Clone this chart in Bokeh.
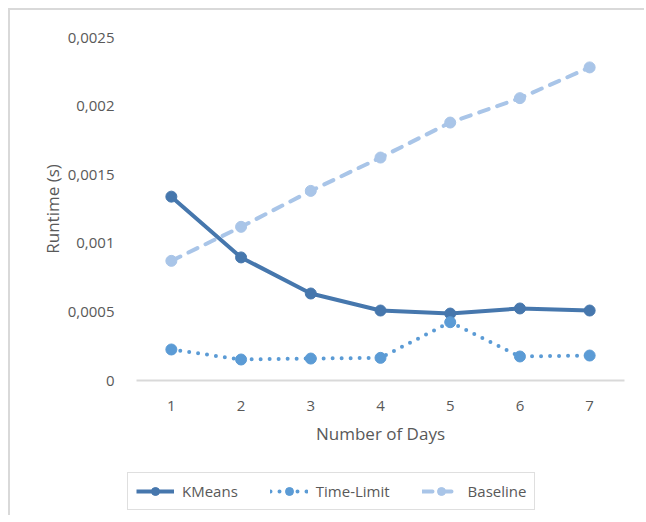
from bokeh.plotting import figure
from bokeh.layouts import column
from bokeh.models import Range1d, FixedTicker, CustomJSTickFormatter, Legend, LegendItem
from bokeh.embed import file_html
from bokeh.resources import INLINE

days = [1, 2, 3, 4, 5, 6, 7]
kmeans = [0.00134, 0.000897, 0.000634, 0.00051, 0.000488, 0.000525, 0.00051]
time_limit = [0.000226, 0.000153, 0.00016, 0.000165, 0.000425, 0.000175, 0.000182]
baseline = [0.000872, 0.00112, 0.001382, 0.001625, 0.001880, 0.002058, 0.002282]
y_ticks = [0, 0.0005, 0.001, 0.0015, 0.002, 0.0025]

FONT = "Open Sans"
TXT = "#595959"
c_k = "#4677ad"
c_t = "#5b9bd5"
c_b = "#a9c5e8"

# main chart
p = figure(frame_width=488, frame_height=343, output_backend="svg", toolbar_location=None,
           x_range=Range1d(0.5, 7.5), y_range=Range1d(0, 0.0025),
           min_border_left=126, min_border_right=20, min_border_top=27, min_border_bottom=80)
p.outline_line_color = None
p.xgrid.visible = False
p.ygrid.visible = False

p.xaxis.ticker = FixedTicker(ticks=days)
p.yaxis.ticker = FixedTicker(ticks=y_ticks)
p.yaxis.formatter = CustomJSTickFormatter(code="return parseFloat(tick.toFixed(4)).toString().replace('.', ',');")
for ax in (p.xaxis[0], p.yaxis[0]):
    ax.major_tick_line_color = None
    ax.minor_tick_line_color = None
    ax.major_label_text_font = FONT
    ax.major_label_text_font_size = "15px"
    ax.major_label_text_color = TXT
    ax.axis_label_text_font = FONT
    ax.axis_label_text_font_size = "17px"
    ax.axis_label_text_font_style = "normal"
    ax.axis_label_text_color = TXT
p.yaxis.axis_line_color = None
p.xaxis.axis_line_color = "#d9d9d9"
p.xaxis.axis_line_width = 2
p.xaxis.axis_label = "Number of Days"
p.yaxis.axis_label = "Runtime (s)"
p.xaxis.major_label_standoff = 14
p.xaxis.axis_label_standoff = 8
p.yaxis.major_label_standoff = 16
p.yaxis.axis_label_standoff = 1

p.line(days, kmeans, line_color=c_k, line_width=4, line_join="round")
p.scatter(days, kmeans, size=11, fill_color=c_k, line_color=c_k)
p.line(days, time_limit, line_color=c_t, line_width=4, line_dash="0 9", line_cap="round")
p.scatter(days, time_limit, size=11, fill_color=c_t, line_color=c_t)
p.line(days, baseline, line_color=c_b, line_width=4, line_dash="10 9", line_cap="round")
p.scatter(days, baseline, size=11, fill_color=c_b, line_color=c_b)

# legend strip (its series sit outside its visible range, only the legend shows)
q = figure(frame_width=634, frame_height=55, output_backend="svg", toolbar_location=None,
           x_range=Range1d(0.5, 7.5), y_range=Range1d(1, 2),
           x_axis_location=None, y_axis_location=None,
           min_border_left=0, min_border_right=0, min_border_top=0, min_border_bottom=0)
q.outline_line_color = None
q.xgrid.visible = False
q.ygrid.visible = False
lk = q.line(days, kmeans, line_color=c_k, line_width=4)
mk = q.scatter(days, kmeans, size=11, fill_color=c_k, line_color=c_k)
lt = q.line(days, time_limit, line_color=c_t, line_width=4, line_dash="0 9", line_cap="round")
mt = q.scatter(days, time_limit, size=11, fill_color=c_t, line_color=c_t)
lb = q.line(days, baseline, line_color=c_b, line_width=4, line_dash="10 9", line_cap="round")
mb = q.scatter(days, baseline, size=11, fill_color=c_b, line_color=c_b)

legend = Legend(items=[LegendItem(label="KMeans", renderers=[lk, mk]),
                       LegendItem(label="Time-Limit", renderers=[lt, mt]),
                       LegendItem(label="Baseline", renderers=[lb, mb])],
                orientation="horizontal", location=(117, 5),
                border_line_color="#bfbfbf", border_line_width=1.5,
                label_text_font=FONT, label_text_font_size="15px", label_text_color=TXT,
                glyph_width=38, glyph_height=20, label_standoff=8, spacing=32,
                padding=8, margin=0)
q.add_layout(legend, "center")

layout = column(p, q, spacing=0)
layout.styles = {"border-left": "2px solid #d9d9d9", "border-top": "2px solid #d9d9d9",
                 "margin-left": "8px", "margin-top": "8px"}

open("out.html", "w").write(file_html(layout, INLINE))
